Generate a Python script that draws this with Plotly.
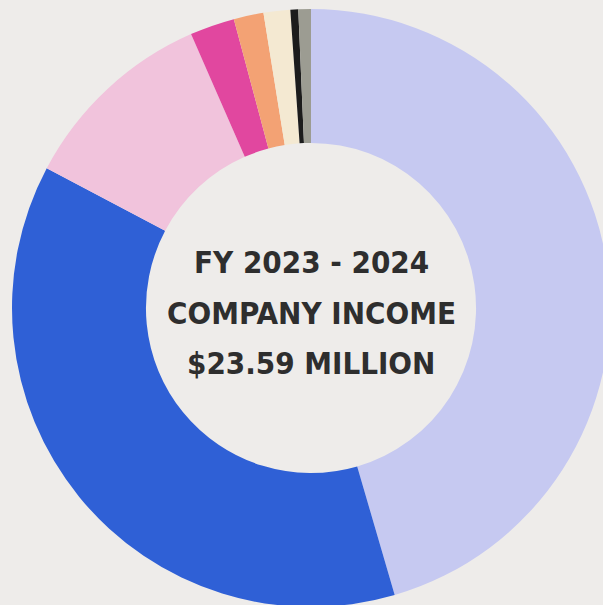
import plotly.graph_objects as go

# FY 2023-2024 company income by source, in millions of dollars
sources = [
    "Source A", "Source B", "Source C", "Source D",
    "Source E", "Source F", "Source G", "Source H",
]
income_millions = [10.73, 8.79, 2.52, 0.57, 0.38, 0.34, 0.10, 0.16]
slice_colors = [
    "#c6c9f1", "#2f60d6", "#f1c3dc", "#e1479f",
    "#f3a274", "#f4e9d2", "#1c1c1c", "#9c9c92",
]
center_lines = ["FY 2023 - 2024", "COMPANY INCOME", "$23.59 MILLION"]

BG = "#eeecea"
W, H = 620, 620
ML, MT, MR, MB = 12, 9, 10, 13
plot_h = H - MT - MB
plot_w = W - ML - MR

fig = go.Figure(
    go.Pie(
        labels=sources,
        values=income_millions,
        hole=0.552,
        sort=False,
        direction="clockwise",
        rotation=0,
        marker=dict(colors=slice_colors, line=dict(width=0)),
        textinfo="none",
        hovertemplate="%{label}: $%{value:.2f}M<extra></extra>",
        showlegend=False,
    )
)

# centre text, one annotation per line
line_centers_px = [262, 313, 363]
for text, py in zip(center_lines, line_centers_px):
    fig.add_annotation(
        text=text,
        x=(311 - ML) / plot_w,
        y=(H - MB - py) / plot_h,
        xref="paper",
        yref="paper",
        showarrow=False,
        xanchor="center",
        yanchor="middle",
        font=dict(
            family="DejaVu Sans Condensed, sans-serif",
            size=31,
            color="#2e2e2e",
            weight="bold",
        ),
    )

fig.update_layout(
    width=W,
    height=H,
    autosize=False,
    margin=dict(l=ML, t=MT, r=MR, b=MB),
    paper_bgcolor=BG,
    plot_bgcolor=BG,
)

fig.write_html("out.html", post_script="document.body.style.overflow='hidden';document.body.style.margin='0';document.body.style.background='" + BG + "';")
